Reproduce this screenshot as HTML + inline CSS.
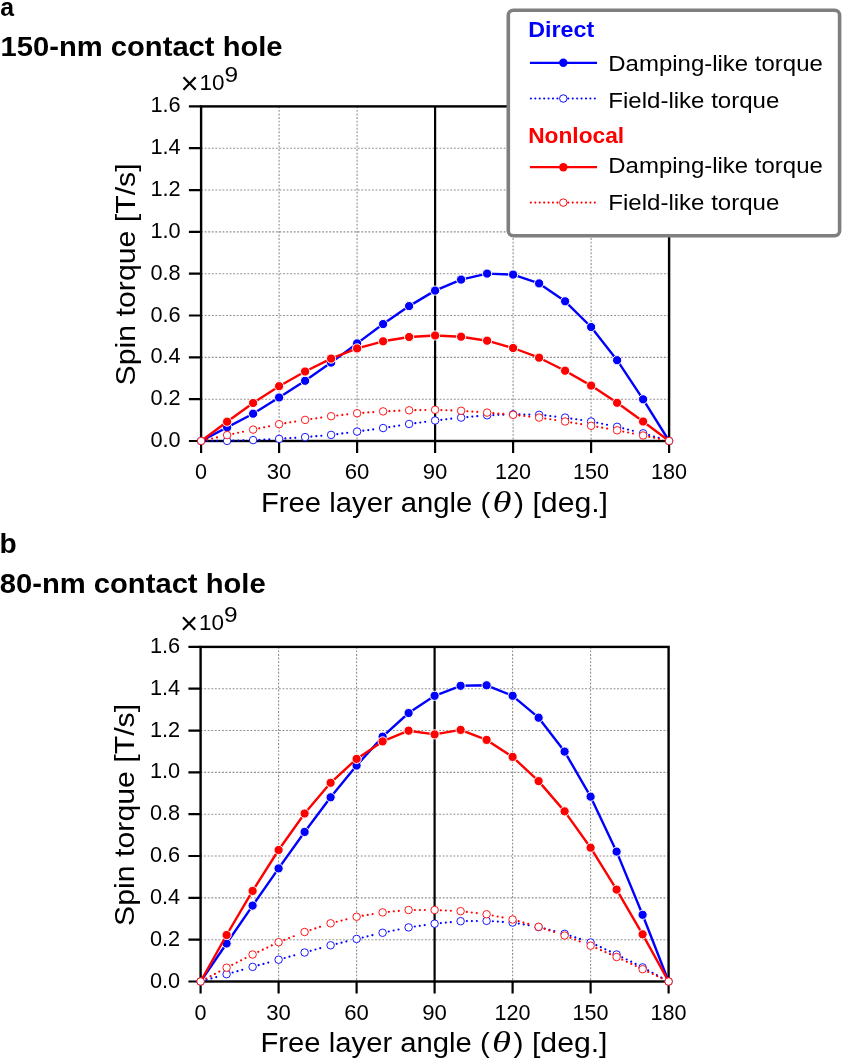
<!DOCTYPE html>
<html lang="en">
<head>
<meta charset="utf-8">
<title>Spin torque vs free layer angle</title>
<style>
html,body{margin:0;padding:0;background:#fff;}
body{width:842px;height:1059px;overflow:hidden;}
svg{display:block;}
svg text{font-family:'Liberation Sans', sans-serif;}
</style>
</head>
<body>
<svg width="842" height="1059" viewBox="0 0 842 1059">
<rect width="842" height="1059" fill="#fff"/>
<text x="0.3" y="16.4" font-size="25.5" font-weight="bold" textLength="13.8" lengthAdjust="spacingAndGlyphs">a</text>
<text x="0.6" y="55.6" font-size="27.5" font-weight="bold" textLength="282" lengthAdjust="spacingAndGlyphs">150-nm contact hole</text>
<text x="-0.6" y="553.3" font-size="27.5" font-weight="bold" textLength="17.2" lengthAdjust="spacingAndGlyphs">b</text>
<text x="-0.3" y="593.2" font-size="27.5" font-weight="bold" textLength="266" lengthAdjust="spacingAndGlyphs">80-nm contact hole</text>
<g transform="translate(0,0.2)">
<path d="M201.1 398.98H669.1M201.1 357.15H669.1M201.1 315.32H669.1M201.1 273.50H669.1M201.1 231.68H669.1M201.1 189.85H669.1M201.1 148.02H669.1M279.1 106.2V440.8M357.1 106.2V440.8M513.1 106.2V440.8M591.1 106.2V440.8" stroke="#909090" stroke-width="1.1" stroke-dasharray="1.9 1.66" fill="none"/>
<path d="M188.9 440.80H201.1M188.9 398.98H201.1M188.9 357.15H201.1M188.9 315.32H201.1M188.9 273.50H201.1M188.9 231.68H201.1M188.9 189.85H201.1M188.9 148.02H201.1M188.9 106.20H201.1M201.1 440.8V452.8M279.1 440.8V452.8M357.1 440.8V452.8M435.1 440.8V452.8M513.1 440.8V452.8M591.1 440.8V452.8M669.1 440.8V452.8" stroke="#000" stroke-width="2.2" fill="none"/>
<path d="M435.1 106.2V440.8" stroke="#000" stroke-width="2.2"/>
<rect x="201.1" y="106.2" width="468.0" height="334.6" fill="none" stroke="#000" stroke-width="2.4"/>
<polyline points="201.1,440.80 227.1,427.20 253.1,413.50 279.1,397.30 305.1,380.60 331.1,362.40 357.1,343.20 383.1,323.85 409.1,305.90 435.1,290.40 461.1,279.40 487.1,273.40 513.1,274.40 539.1,283.20 565.1,301.10 591.1,326.80 617.1,360.00 643.1,399.10 669.1,440.80" fill="none" stroke="#0000ff" stroke-width="2.4" stroke-linejoin="round"/>
<circle cx="227.1" cy="427.20" r="4.6" fill="#0000ff" stroke="#fff" stroke-width="1"/>
<circle cx="253.1" cy="413.50" r="4.6" fill="#0000ff" stroke="#fff" stroke-width="1"/>
<circle cx="279.1" cy="397.30" r="4.6" fill="#0000ff" stroke="#fff" stroke-width="1"/>
<circle cx="305.1" cy="380.60" r="4.6" fill="#0000ff" stroke="#fff" stroke-width="1"/>
<circle cx="331.1" cy="362.40" r="4.6" fill="#0000ff" stroke="#fff" stroke-width="1"/>
<circle cx="357.1" cy="343.20" r="4.6" fill="#0000ff" stroke="#fff" stroke-width="1"/>
<circle cx="383.1" cy="323.85" r="4.6" fill="#0000ff" stroke="#fff" stroke-width="1"/>
<circle cx="409.1" cy="305.90" r="4.6" fill="#0000ff" stroke="#fff" stroke-width="1"/>
<circle cx="435.1" cy="290.40" r="4.6" fill="#0000ff" stroke="#fff" stroke-width="1"/>
<circle cx="461.1" cy="279.40" r="4.6" fill="#0000ff" stroke="#fff" stroke-width="1"/>
<circle cx="487.1" cy="273.40" r="4.6" fill="#0000ff" stroke="#fff" stroke-width="1"/>
<circle cx="513.1" cy="274.40" r="4.6" fill="#0000ff" stroke="#fff" stroke-width="1"/>
<circle cx="539.1" cy="283.20" r="4.6" fill="#0000ff" stroke="#fff" stroke-width="1"/>
<circle cx="565.1" cy="301.10" r="4.6" fill="#0000ff" stroke="#fff" stroke-width="1"/>
<circle cx="591.1" cy="326.80" r="4.6" fill="#0000ff" stroke="#fff" stroke-width="1"/>
<circle cx="617.1" cy="360.00" r="4.6" fill="#0000ff" stroke="#fff" stroke-width="1"/>
<circle cx="643.1" cy="399.10" r="4.6" fill="#0000ff" stroke="#fff" stroke-width="1"/>
<path d="M207.40 440.78h0M212.37 440.76h0M217.34 440.74h0M233.40 440.51h0M238.36 440.35h0M243.33 440.20h0M259.39 439.61h0M264.36 439.38h0M269.32 439.15h0M285.38 438.26h0M290.34 437.92h0M295.30 437.58h0M311.38 436.37h0M316.33 435.95h0M321.28 435.53h0M337.35 433.89h0M342.28 433.26h0M347.21 432.62h0M363.34 430.51h0M368.27 429.85h0M373.19 429.18h0M389.32 426.88h0M394.24 426.12h0M399.15 425.35h0M415.34 422.96h0M420.27 422.30h0M425.19 421.63h0M441.36 419.60h0M446.30 419.05h0M451.24 418.50h0M467.38 416.84h0M472.33 416.41h0M477.28 415.97h0M493.40 414.86h0M498.36 414.67h0M503.33 414.48h0M519.40 414.22h0M524.37 414.32h0M529.34 414.41h0M545.36 415.27h0M550.31 415.81h0M555.25 416.34h0M571.33 418.33h0M576.25 419.07h0M581.16 419.81h0M597.27 422.56h0M602.14 423.55h0M607.01 424.54h0M623.21 428.13h0M628.03 429.33h0M632.86 430.54h0M649.14 434.89h0M653.91 436.30h0M658.67 437.71h0" fill="none" stroke="#0000ff" stroke-width="2.2" stroke-linecap="round"/>
<circle cx="201.1" cy="440.80" r="3.75" fill="#fff" stroke="#0000ff" stroke-width="0.9"/>
<circle cx="227.1" cy="440.70" r="3.75" fill="#fff" stroke="#0000ff" stroke-width="0.9"/>
<circle cx="253.1" cy="439.90" r="3.75" fill="#fff" stroke="#0000ff" stroke-width="0.9"/>
<circle cx="279.1" cy="438.70" r="3.75" fill="#fff" stroke="#0000ff" stroke-width="0.9"/>
<circle cx="305.1" cy="436.90" r="3.75" fill="#fff" stroke="#0000ff" stroke-width="0.9"/>
<circle cx="331.1" cy="434.70" r="3.75" fill="#fff" stroke="#0000ff" stroke-width="0.9"/>
<circle cx="357.1" cy="431.35" r="3.75" fill="#fff" stroke="#0000ff" stroke-width="0.9"/>
<circle cx="383.1" cy="427.85" r="3.75" fill="#fff" stroke="#0000ff" stroke-width="0.9"/>
<circle cx="409.1" cy="423.80" r="3.75" fill="#fff" stroke="#0000ff" stroke-width="0.9"/>
<circle cx="435.1" cy="420.30" r="3.75" fill="#fff" stroke="#0000ff" stroke-width="0.9"/>
<circle cx="461.1" cy="417.40" r="3.75" fill="#fff" stroke="#0000ff" stroke-width="0.9"/>
<circle cx="487.1" cy="415.10" r="3.75" fill="#fff" stroke="#0000ff" stroke-width="0.9"/>
<circle cx="513.1" cy="414.10" r="3.75" fill="#fff" stroke="#0000ff" stroke-width="0.9"/>
<circle cx="539.1" cy="414.60" r="3.75" fill="#fff" stroke="#0000ff" stroke-width="0.9"/>
<circle cx="565.1" cy="417.40" r="3.75" fill="#fff" stroke="#0000ff" stroke-width="0.9"/>
<circle cx="591.1" cy="421.30" r="3.75" fill="#fff" stroke="#0000ff" stroke-width="0.9"/>
<circle cx="617.1" cy="426.60" r="3.75" fill="#fff" stroke="#0000ff" stroke-width="0.9"/>
<circle cx="643.1" cy="433.10" r="3.75" fill="#fff" stroke="#0000ff" stroke-width="0.9"/>
<circle cx="669.1" cy="440.80" r="3.75" fill="#fff" stroke="#0000ff" stroke-width="0.9"/>
<polyline points="201.1,440.80 227.1,421.50 253.1,402.80 279.1,386.00 305.1,371.30 331.1,358.40 357.1,348.20 383.1,341.10 409.1,336.80 435.1,335.30 461.1,336.50 487.1,340.50 513.1,347.80 539.1,357.50 565.1,370.50 591.1,385.40 617.1,402.60 643.1,421.30 669.1,440.80" fill="none" stroke="#ff0000" stroke-width="2.4" stroke-linejoin="round"/>
<circle cx="227.1" cy="421.50" r="4.6" fill="#ff0000" stroke="#fff" stroke-width="1"/>
<circle cx="253.1" cy="402.80" r="4.6" fill="#ff0000" stroke="#fff" stroke-width="1"/>
<circle cx="279.1" cy="386.00" r="4.6" fill="#ff0000" stroke="#fff" stroke-width="1"/>
<circle cx="305.1" cy="371.30" r="4.6" fill="#ff0000" stroke="#fff" stroke-width="1"/>
<circle cx="331.1" cy="358.40" r="4.6" fill="#ff0000" stroke="#fff" stroke-width="1"/>
<circle cx="357.1" cy="348.20" r="4.6" fill="#ff0000" stroke="#fff" stroke-width="1"/>
<circle cx="383.1" cy="341.10" r="4.6" fill="#ff0000" stroke="#fff" stroke-width="1"/>
<circle cx="409.1" cy="336.80" r="4.6" fill="#ff0000" stroke="#fff" stroke-width="1"/>
<circle cx="435.1" cy="335.30" r="4.6" fill="#ff0000" stroke="#fff" stroke-width="1"/>
<circle cx="461.1" cy="336.50" r="4.6" fill="#ff0000" stroke="#fff" stroke-width="1"/>
<circle cx="487.1" cy="340.50" r="4.6" fill="#ff0000" stroke="#fff" stroke-width="1"/>
<circle cx="513.1" cy="347.80" r="4.6" fill="#ff0000" stroke="#fff" stroke-width="1"/>
<circle cx="539.1" cy="357.50" r="4.6" fill="#ff0000" stroke="#fff" stroke-width="1"/>
<circle cx="565.1" cy="370.50" r="4.6" fill="#ff0000" stroke="#fff" stroke-width="1"/>
<circle cx="591.1" cy="385.40" r="4.6" fill="#ff0000" stroke="#fff" stroke-width="1"/>
<circle cx="617.1" cy="402.60" r="4.6" fill="#ff0000" stroke="#fff" stroke-width="1"/>
<circle cx="643.1" cy="421.30" r="4.6" fill="#ff0000" stroke="#fff" stroke-width="1"/>
<path d="M207.24 439.41h0M212.09 438.31h0M216.94 437.21h0M233.26 433.60h0M238.13 432.57h0M242.99 431.54h0M259.27 428.12h0M264.13 427.11h0M269.00 426.10h0M285.32 422.97h0M290.22 422.16h0M295.12 421.35h0M311.34 418.81h0M316.26 418.11h0M321.18 417.41h0M337.36 415.29h0M342.30 414.73h0M347.24 414.17h0M363.38 412.60h0M368.34 412.25h0M373.30 411.90h0M389.39 410.93h0M394.36 410.72h0M399.33 410.51h0M415.40 409.98h0M420.37 409.88h0M425.34 409.79h0M441.40 409.84h0M446.36 410.03h0M451.33 410.22h0M467.38 411.04h0M472.34 411.38h0M477.30 411.72h0M493.38 412.93h0M498.33 413.35h0M503.28 413.77h0M519.36 415.27h0M524.31 415.81h0M529.25 416.34h0M545.33 418.33h0M550.25 419.07h0M555.16 419.81h0M571.32 422.33h0M576.22 423.14h0M581.12 423.95h0M597.31 426.67h0M602.20 427.52h0M607.10 428.37h0M623.28 431.34h0M628.15 432.31h0M633.02 433.28h0M649.26 436.60h0M654.13 437.63h0M658.99 438.66h0" fill="none" stroke="#ff0000" stroke-width="2.2" stroke-linecap="round"/>
<circle cx="201.1" cy="440.80" r="3.75" fill="#fff" stroke="#ff0000" stroke-width="0.9"/>
<circle cx="227.1" cy="434.90" r="3.75" fill="#fff" stroke="#ff0000" stroke-width="0.9"/>
<circle cx="253.1" cy="429.40" r="3.75" fill="#fff" stroke="#ff0000" stroke-width="0.9"/>
<circle cx="279.1" cy="424.00" r="3.75" fill="#fff" stroke="#ff0000" stroke-width="0.9"/>
<circle cx="305.1" cy="419.70" r="3.75" fill="#fff" stroke="#ff0000" stroke-width="0.9"/>
<circle cx="331.1" cy="416.00" r="3.75" fill="#fff" stroke="#ff0000" stroke-width="0.9"/>
<circle cx="357.1" cy="413.05" r="3.75" fill="#fff" stroke="#ff0000" stroke-width="0.9"/>
<circle cx="383.1" cy="411.20" r="3.75" fill="#fff" stroke="#ff0000" stroke-width="0.9"/>
<circle cx="409.1" cy="410.10" r="3.75" fill="#fff" stroke="#ff0000" stroke-width="0.9"/>
<circle cx="435.1" cy="409.60" r="3.75" fill="#fff" stroke="#ff0000" stroke-width="0.9"/>
<circle cx="461.1" cy="410.60" r="3.75" fill="#fff" stroke="#ff0000" stroke-width="0.9"/>
<circle cx="487.1" cy="412.40" r="3.75" fill="#fff" stroke="#ff0000" stroke-width="0.9"/>
<circle cx="513.1" cy="414.60" r="3.75" fill="#fff" stroke="#ff0000" stroke-width="0.9"/>
<circle cx="539.1" cy="417.40" r="3.75" fill="#fff" stroke="#ff0000" stroke-width="0.9"/>
<circle cx="565.1" cy="421.30" r="3.75" fill="#fff" stroke="#ff0000" stroke-width="0.9"/>
<circle cx="591.1" cy="425.60" r="3.75" fill="#fff" stroke="#ff0000" stroke-width="0.9"/>
<circle cx="617.1" cy="430.10" r="3.75" fill="#fff" stroke="#ff0000" stroke-width="0.9"/>
<circle cx="643.1" cy="435.30" r="3.75" fill="#fff" stroke="#ff0000" stroke-width="0.9"/>
<circle cx="669.1" cy="440.80" r="3.75" fill="#fff" stroke="#ff0000" stroke-width="0.9"/>
<text x="180.6" y="446.9" text-anchor="end" font-size="22.5" textLength="30.2" lengthAdjust="spacingAndGlyphs">0.0</text>
<text x="180.6" y="405.1" text-anchor="end" font-size="22.5" textLength="30.2" lengthAdjust="spacingAndGlyphs">0.2</text>
<text x="180.6" y="363.2" text-anchor="end" font-size="22.5" textLength="30.2" lengthAdjust="spacingAndGlyphs">0.4</text>
<text x="180.6" y="321.4" text-anchor="end" font-size="22.5" textLength="30.2" lengthAdjust="spacingAndGlyphs">0.6</text>
<text x="180.6" y="279.6" text-anchor="end" font-size="22.5" textLength="30.2" lengthAdjust="spacingAndGlyphs">0.8</text>
<text x="180.6" y="237.8" text-anchor="end" font-size="22.5" textLength="30.2" lengthAdjust="spacingAndGlyphs">1.0</text>
<text x="180.6" y="195.9" text-anchor="end" font-size="22.5" textLength="30.2" lengthAdjust="spacingAndGlyphs">1.2</text>
<text x="180.6" y="154.1" text-anchor="end" font-size="22.5" textLength="30.2" lengthAdjust="spacingAndGlyphs">1.4</text>
<text x="180.6" y="112.3" text-anchor="end" font-size="22.5" textLength="30.2" lengthAdjust="spacingAndGlyphs">1.6</text>
<text x="201.1" y="478.9" text-anchor="middle" font-size="22.5" textLength="12.0" lengthAdjust="spacingAndGlyphs">0</text>
<text x="279.1" y="478.9" text-anchor="middle" font-size="22.5" textLength="24.6" lengthAdjust="spacingAndGlyphs">30</text>
<text x="357.1" y="478.9" text-anchor="middle" font-size="22.5" textLength="24.6" lengthAdjust="spacingAndGlyphs">60</text>
<text x="435.1" y="478.9" text-anchor="middle" font-size="22.5" textLength="24.6" lengthAdjust="spacingAndGlyphs">90</text>
<text x="513.1" y="478.9" text-anchor="middle" font-size="22.5" textLength="36.0" lengthAdjust="spacingAndGlyphs">120</text>
<text x="591.1" y="478.9" text-anchor="middle" font-size="22.5" textLength="36.0" lengthAdjust="spacingAndGlyphs">150</text>
<text x="669.1" y="478.9" text-anchor="middle" font-size="22.5" textLength="36.0" lengthAdjust="spacingAndGlyphs">180</text>
<text x="180.6" y="93.6" font-size="31">×</text>
<text x="199.6" y="89.8" font-size="22.4" textLength="25" lengthAdjust="spacingAndGlyphs">10</text>
<text x="224.4" y="81.5" font-size="22.4" textLength="13.6" lengthAdjust="spacingAndGlyphs">9</text>
<text x="261" y="511.6" font-size="27" textLength="229.2" lengthAdjust="spacingAndGlyphs">Free layer angle (</text>
<text x="492.6" y="511.6" font-size="29" style="font-family:'Liberation Serif',serif;font-style:italic" textLength="19" lengthAdjust="spacingAndGlyphs">θ</text>
<text x="514" y="511.6" font-size="27" textLength="94" lengthAdjust="spacingAndGlyphs">) [deg.]</text>
<text transform="translate(134.9,385.2) rotate(-90)" font-size="28" textLength="222" lengthAdjust="spacingAndGlyphs">Spin torque [T/s]</text>
</g>
<g transform="translate(-0.5,540.7)">
<path d="M201.1 398.98H669.1M201.1 357.15H669.1M201.1 315.32H669.1M201.1 273.50H669.1M201.1 231.68H669.1M201.1 189.85H669.1M201.1 148.02H669.1M279.1 106.2V440.8M357.1 106.2V440.8M513.1 106.2V440.8M591.1 106.2V440.8" stroke="#909090" stroke-width="1.1" stroke-dasharray="1.9 1.66" fill="none"/>
<path d="M188.9 440.80H201.1M188.9 398.98H201.1M188.9 357.15H201.1M188.9 315.32H201.1M188.9 273.50H201.1M188.9 231.68H201.1M188.9 189.85H201.1M188.9 148.02H201.1M188.9 106.20H201.1M201.1 440.8V452.8M279.1 440.8V452.8M357.1 440.8V452.8M435.1 440.8V452.8M513.1 440.8V452.8M591.1 440.8V452.8M669.1 440.8V452.8" stroke="#000" stroke-width="2.2" fill="none"/>
<path d="M435.1 106.2V440.8" stroke="#000" stroke-width="2.2"/>
<rect x="201.1" y="106.2" width="468.0" height="334.6" fill="none" stroke="#000" stroke-width="2.4"/>
<polyline points="201.1,440.80 227.1,402.80 253.1,364.90 279.1,327.70 305.1,291.25 331.1,256.60 357.1,224.90 383.1,196.00 409.1,172.30 435.1,155.10 461.1,145.10 487.1,144.60 513.1,155.10 539.1,177.00 565.1,210.90 591.1,255.95 617.1,310.95 643.1,374.10 669.1,440.80" fill="none" stroke="#0000ff" stroke-width="2.4" stroke-linejoin="round"/>
<circle cx="227.1" cy="402.80" r="4.6" fill="#0000ff" stroke="#fff" stroke-width="1"/>
<circle cx="253.1" cy="364.90" r="4.6" fill="#0000ff" stroke="#fff" stroke-width="1"/>
<circle cx="279.1" cy="327.70" r="4.6" fill="#0000ff" stroke="#fff" stroke-width="1"/>
<circle cx="305.1" cy="291.25" r="4.6" fill="#0000ff" stroke="#fff" stroke-width="1"/>
<circle cx="331.1" cy="256.60" r="4.6" fill="#0000ff" stroke="#fff" stroke-width="1"/>
<circle cx="357.1" cy="224.90" r="4.6" fill="#0000ff" stroke="#fff" stroke-width="1"/>
<circle cx="383.1" cy="196.00" r="4.6" fill="#0000ff" stroke="#fff" stroke-width="1"/>
<circle cx="409.1" cy="172.30" r="4.6" fill="#0000ff" stroke="#fff" stroke-width="1"/>
<circle cx="435.1" cy="155.10" r="4.6" fill="#0000ff" stroke="#fff" stroke-width="1"/>
<circle cx="461.1" cy="145.10" r="4.6" fill="#0000ff" stroke="#fff" stroke-width="1"/>
<circle cx="487.1" cy="144.60" r="4.6" fill="#0000ff" stroke="#fff" stroke-width="1"/>
<circle cx="513.1" cy="155.10" r="4.6" fill="#0000ff" stroke="#fff" stroke-width="1"/>
<circle cx="539.1" cy="177.00" r="4.6" fill="#0000ff" stroke="#fff" stroke-width="1"/>
<circle cx="565.1" cy="210.90" r="4.6" fill="#0000ff" stroke="#fff" stroke-width="1"/>
<circle cx="591.1" cy="255.95" r="4.6" fill="#0000ff" stroke="#fff" stroke-width="1"/>
<circle cx="617.1" cy="310.95" r="4.6" fill="#0000ff" stroke="#fff" stroke-width="1"/>
<circle cx="643.1" cy="374.10" r="4.6" fill="#0000ff" stroke="#fff" stroke-width="1"/>
<path d="M207.17 439.10h0M211.95 437.75h0M216.74 436.41h0M233.17 431.80h0M237.95 430.45h0M242.74 429.11h0M259.17 424.52h0M263.96 423.19h0M268.75 421.87h0M285.17 417.32h0M289.96 415.99h0M294.75 414.67h0M311.17 410.12h0M315.96 408.79h0M320.75 407.47h0M337.22 403.11h0M342.05 401.93h0M346.88 400.75h0M363.23 396.79h0M368.06 395.64h0M372.90 394.48h0M389.27 390.78h0M394.14 389.78h0M399.01 388.78h0M415.34 385.81h0M420.26 385.11h0M425.18 384.41h0M441.37 382.40h0M446.32 381.92h0M451.27 381.45h0M467.40 380.42h0M472.37 380.35h0M477.34 380.28h0M493.39 380.55h0M498.35 380.86h0M503.31 381.18h0M519.31 382.87h0M524.20 383.72h0M529.10 384.57h0M545.19 387.89h0M550.00 389.15h0M554.81 390.41h0M571.07 395.10h0M575.79 396.68h0M580.50 398.25h0M596.82 404.44h0M601.33 406.52h0M605.85 408.61h0M610.36 410.69h0M622.74 416.60h0M627.20 418.81h0M631.65 421.02h0M636.10 423.23h0M648.64 429.70h0M653.01 432.07h0M657.38 434.44h0M661.74 436.81h0" fill="none" stroke="#0000ff" stroke-width="2.2" stroke-linecap="round"/>
<circle cx="201.1" cy="440.80" r="3.75" fill="#fff" stroke="#0000ff" stroke-width="0.9"/>
<circle cx="227.1" cy="433.50" r="3.75" fill="#fff" stroke="#0000ff" stroke-width="0.9"/>
<circle cx="253.1" cy="426.20" r="3.75" fill="#fff" stroke="#0000ff" stroke-width="0.9"/>
<circle cx="279.1" cy="419.00" r="3.75" fill="#fff" stroke="#0000ff" stroke-width="0.9"/>
<circle cx="305.1" cy="411.80" r="3.75" fill="#fff" stroke="#0000ff" stroke-width="0.9"/>
<circle cx="331.1" cy="404.60" r="3.75" fill="#fff" stroke="#0000ff" stroke-width="0.9"/>
<circle cx="357.1" cy="398.25" r="3.75" fill="#fff" stroke="#0000ff" stroke-width="0.9"/>
<circle cx="383.1" cy="392.05" r="3.75" fill="#fff" stroke="#0000ff" stroke-width="0.9"/>
<circle cx="409.1" cy="386.70" r="3.75" fill="#fff" stroke="#0000ff" stroke-width="0.9"/>
<circle cx="435.1" cy="383.00" r="3.75" fill="#fff" stroke="#0000ff" stroke-width="0.9"/>
<circle cx="461.1" cy="380.50" r="3.75" fill="#fff" stroke="#0000ff" stroke-width="0.9"/>
<circle cx="487.1" cy="380.15" r="3.75" fill="#fff" stroke="#0000ff" stroke-width="0.9"/>
<circle cx="513.1" cy="381.80" r="3.75" fill="#fff" stroke="#0000ff" stroke-width="0.9"/>
<circle cx="539.1" cy="386.30" r="3.75" fill="#fff" stroke="#0000ff" stroke-width="0.9"/>
<circle cx="565.1" cy="393.10" r="3.75" fill="#fff" stroke="#0000ff" stroke-width="0.9"/>
<circle cx="591.1" cy="401.80" r="3.75" fill="#fff" stroke="#0000ff" stroke-width="0.9"/>
<circle cx="617.1" cy="413.80" r="3.75" fill="#fff" stroke="#0000ff" stroke-width="0.9"/>
<circle cx="643.1" cy="426.70" r="3.75" fill="#fff" stroke="#0000ff" stroke-width="0.9"/>
<circle cx="669.1" cy="440.80" r="3.75" fill="#fff" stroke="#0000ff" stroke-width="0.9"/>
<polyline points="201.1,440.80 227.1,394.30 253.1,350.20 279.1,309.30 305.1,272.80 331.1,242.10 357.1,218.20 383.1,200.70 409.1,190.00 435.1,193.70 461.1,189.20 487.1,199.20 513.1,216.20 539.1,240.40 565.1,270.65 591.1,307.00 617.1,348.90 643.1,393.60 669.1,440.80" fill="none" stroke="#ff0000" stroke-width="2.4" stroke-linejoin="round"/>
<circle cx="227.1" cy="394.30" r="4.6" fill="#ff0000" stroke="#fff" stroke-width="1"/>
<circle cx="253.1" cy="350.20" r="4.6" fill="#ff0000" stroke="#fff" stroke-width="1"/>
<circle cx="279.1" cy="309.30" r="4.6" fill="#ff0000" stroke="#fff" stroke-width="1"/>
<circle cx="305.1" cy="272.80" r="4.6" fill="#ff0000" stroke="#fff" stroke-width="1"/>
<circle cx="331.1" cy="242.10" r="4.6" fill="#ff0000" stroke="#fff" stroke-width="1"/>
<circle cx="357.1" cy="218.20" r="4.6" fill="#ff0000" stroke="#fff" stroke-width="1"/>
<circle cx="383.1" cy="200.70" r="4.6" fill="#ff0000" stroke="#fff" stroke-width="1"/>
<circle cx="409.1" cy="190.00" r="4.6" fill="#ff0000" stroke="#fff" stroke-width="1"/>
<circle cx="435.1" cy="193.70" r="4.6" fill="#ff0000" stroke="#fff" stroke-width="1"/>
<circle cx="461.1" cy="189.20" r="4.6" fill="#ff0000" stroke="#fff" stroke-width="1"/>
<circle cx="487.1" cy="199.20" r="4.6" fill="#ff0000" stroke="#fff" stroke-width="1"/>
<circle cx="513.1" cy="216.20" r="4.6" fill="#ff0000" stroke="#fff" stroke-width="1"/>
<circle cx="539.1" cy="240.40" r="4.6" fill="#ff0000" stroke="#fff" stroke-width="1"/>
<circle cx="565.1" cy="270.65" r="4.6" fill="#ff0000" stroke="#fff" stroke-width="1"/>
<circle cx="591.1" cy="307.00" r="4.6" fill="#ff0000" stroke="#fff" stroke-width="1"/>
<circle cx="617.1" cy="348.90" r="4.6" fill="#ff0000" stroke="#fff" stroke-width="1"/>
<circle cx="643.1" cy="393.60" r="4.6" fill="#ff0000" stroke="#fff" stroke-width="1"/>
<path d="M206.66 437.85h0M211.05 435.52h0M215.44 433.19h0M219.83 430.86h0M232.72 424.15h0M237.15 421.90h0M241.58 419.65h0M246.01 417.40h0M258.79 411.11h0M263.29 408.98h0M267.78 406.86h0M272.27 404.73h0M284.96 399.20h0M289.59 397.38h0M294.22 395.57h0M311.07 389.30h0M315.79 387.72h0M320.50 386.15h0M337.21 381.06h0M342.03 379.85h0M346.85 378.63h0M363.31 375.01h0M368.22 374.19h0M373.12 373.37h0M389.37 371.12h0M394.32 370.66h0M399.27 370.21h0M415.40 369.30h0M420.37 369.30h0M425.34 369.30h0M441.39 369.59h0M446.36 369.82h0M451.32 370.05h0M467.36 371.23h0M472.29 371.81h0M477.23 372.39h0M493.28 374.80h0M498.15 375.78h0M503.02 376.76h0M519.16 380.51h0M523.94 381.87h0M528.73 383.22h0M545.08 388.14h0M549.79 389.71h0M554.51 391.28h0M570.96 397.10h0M575.59 398.92h0M580.22 400.73h0M596.88 407.51h0M601.44 409.49h0M605.99 411.47h0M610.55 413.45h0M622.80 418.98h0M627.30 421.09h0M631.80 423.20h0M636.30 425.31h0M648.79 431.19h0M653.29 433.32h0M657.78 435.44h0M662.27 437.57h0" fill="none" stroke="#ff0000" stroke-width="2.2" stroke-linecap="round"/>
<circle cx="201.1" cy="440.80" r="3.75" fill="#fff" stroke="#ff0000" stroke-width="0.9"/>
<circle cx="227.1" cy="427.00" r="3.75" fill="#fff" stroke="#ff0000" stroke-width="0.9"/>
<circle cx="253.1" cy="413.80" r="3.75" fill="#fff" stroke="#ff0000" stroke-width="0.9"/>
<circle cx="279.1" cy="401.50" r="3.75" fill="#fff" stroke="#ff0000" stroke-width="0.9"/>
<circle cx="305.1" cy="391.30" r="3.75" fill="#fff" stroke="#ff0000" stroke-width="0.9"/>
<circle cx="331.1" cy="382.60" r="3.75" fill="#fff" stroke="#ff0000" stroke-width="0.9"/>
<circle cx="357.1" cy="376.05" r="3.75" fill="#fff" stroke="#ff0000" stroke-width="0.9"/>
<circle cx="383.1" cy="371.70" r="3.75" fill="#fff" stroke="#ff0000" stroke-width="0.9"/>
<circle cx="409.1" cy="369.30" r="3.75" fill="#fff" stroke="#ff0000" stroke-width="0.9"/>
<circle cx="435.1" cy="369.30" r="3.75" fill="#fff" stroke="#ff0000" stroke-width="0.9"/>
<circle cx="461.1" cy="370.50" r="3.75" fill="#fff" stroke="#ff0000" stroke-width="0.9"/>
<circle cx="487.1" cy="373.55" r="3.75" fill="#fff" stroke="#ff0000" stroke-width="0.9"/>
<circle cx="513.1" cy="378.80" r="3.75" fill="#fff" stroke="#ff0000" stroke-width="0.9"/>
<circle cx="539.1" cy="386.15" r="3.75" fill="#fff" stroke="#ff0000" stroke-width="0.9"/>
<circle cx="565.1" cy="394.80" r="3.75" fill="#fff" stroke="#ff0000" stroke-width="0.9"/>
<circle cx="591.1" cy="405.00" r="3.75" fill="#fff" stroke="#ff0000" stroke-width="0.9"/>
<circle cx="617.1" cy="416.30" r="3.75" fill="#fff" stroke="#ff0000" stroke-width="0.9"/>
<circle cx="643.1" cy="428.50" r="3.75" fill="#fff" stroke="#ff0000" stroke-width="0.9"/>
<circle cx="669.1" cy="440.80" r="3.75" fill="#fff" stroke="#ff0000" stroke-width="0.9"/>
<text x="180.6" y="446.9" text-anchor="end" font-size="22.5" textLength="30.2" lengthAdjust="spacingAndGlyphs">0.0</text>
<text x="180.6" y="405.1" text-anchor="end" font-size="22.5" textLength="30.2" lengthAdjust="spacingAndGlyphs">0.2</text>
<text x="180.6" y="363.2" text-anchor="end" font-size="22.5" textLength="30.2" lengthAdjust="spacingAndGlyphs">0.4</text>
<text x="180.6" y="321.4" text-anchor="end" font-size="22.5" textLength="30.2" lengthAdjust="spacingAndGlyphs">0.6</text>
<text x="180.6" y="279.6" text-anchor="end" font-size="22.5" textLength="30.2" lengthAdjust="spacingAndGlyphs">0.8</text>
<text x="180.6" y="237.8" text-anchor="end" font-size="22.5" textLength="30.2" lengthAdjust="spacingAndGlyphs">1.0</text>
<text x="180.6" y="195.9" text-anchor="end" font-size="22.5" textLength="30.2" lengthAdjust="spacingAndGlyphs">1.2</text>
<text x="180.6" y="154.1" text-anchor="end" font-size="22.5" textLength="30.2" lengthAdjust="spacingAndGlyphs">1.4</text>
<text x="180.6" y="112.3" text-anchor="end" font-size="22.5" textLength="30.2" lengthAdjust="spacingAndGlyphs">1.6</text>
<text x="201.1" y="478.9" text-anchor="middle" font-size="22.5" textLength="12.0" lengthAdjust="spacingAndGlyphs">0</text>
<text x="279.1" y="478.9" text-anchor="middle" font-size="22.5" textLength="24.6" lengthAdjust="spacingAndGlyphs">30</text>
<text x="357.1" y="478.9" text-anchor="middle" font-size="22.5" textLength="24.6" lengthAdjust="spacingAndGlyphs">60</text>
<text x="435.1" y="478.9" text-anchor="middle" font-size="22.5" textLength="24.6" lengthAdjust="spacingAndGlyphs">90</text>
<text x="513.1" y="478.9" text-anchor="middle" font-size="22.5" textLength="36.0" lengthAdjust="spacingAndGlyphs">120</text>
<text x="591.1" y="478.9" text-anchor="middle" font-size="22.5" textLength="36.0" lengthAdjust="spacingAndGlyphs">150</text>
<text x="669.1" y="478.9" text-anchor="middle" font-size="22.5" textLength="36.0" lengthAdjust="spacingAndGlyphs">180</text>
<text x="180.6" y="93.6" font-size="31">×</text>
<text x="199.6" y="89.8" font-size="22.4" textLength="25" lengthAdjust="spacingAndGlyphs">10</text>
<text x="224.4" y="81.5" font-size="22.4" textLength="13.6" lengthAdjust="spacingAndGlyphs">9</text>
<text x="261" y="511.6" font-size="27" textLength="229.2" lengthAdjust="spacingAndGlyphs">Free layer angle (</text>
<text x="492.6" y="511.6" font-size="29" style="font-family:'Liberation Serif',serif;font-style:italic" textLength="19" lengthAdjust="spacingAndGlyphs">θ</text>
<text x="514" y="511.6" font-size="27" textLength="94" lengthAdjust="spacingAndGlyphs">) [deg.]</text>
<text transform="translate(134.9,385.2) rotate(-90)" font-size="28" textLength="222" lengthAdjust="spacingAndGlyphs">Spin torque [T/s]</text>
</g>
<rect x="508.3" y="10.2" width="331.3" height="225.5" rx="5" ry="5" fill="#fff" stroke="#7f7f7f" stroke-width="3.6"/>
<text x="528.2" y="36.8" font-size="21.5" font-weight="bold" fill="#0000ff" textLength="66" lengthAdjust="spacingAndGlyphs">Direct</text>
<text x="528.2" y="142.8" font-size="21.5" font-weight="bold" fill="#ff0000" textLength="96" lengthAdjust="spacingAndGlyphs">Nonlocal</text>
<path d="M529.9 62.8H597" stroke="#0000ff" stroke-width="2.3" fill="none"/>
<circle cx="563.3" cy="62.8" r="4.2" fill="#0000ff"/>
<text x="608.3" y="71.4" font-size="21.5" textLength="214.5" lengthAdjust="spacingAndGlyphs">Damping-like torque</text>
<path d="M530.90 98.5h0M568.30 98.5h0M535.32 98.5h0M572.72 98.5h0M539.74 98.5h0M577.14 98.5h0M544.16 98.5h0M581.56 98.5h0M548.58 98.5h0M585.98 98.5h0M553.00 98.5h0M590.40 98.5h0M557.42 98.5h0M594.82 98.5h0" stroke="#0000ff" stroke-width="2.1" stroke-linecap="round" fill="none"/>
<circle cx="563.3" cy="98.5" r="3.75" fill="#fff" stroke="#0000ff" stroke-width="0.95"/>
<text x="608.3" y="108.0" font-size="21.5" textLength="171" lengthAdjust="spacingAndGlyphs">Field-like torque</text>
<path d="M529.9 167.2H597" stroke="#ff0000" stroke-width="2.3" fill="none"/>
<circle cx="563.3" cy="167.2" r="4.2" fill="#ff0000"/>
<text x="608.3" y="173.1" font-size="21.5" textLength="214.5" lengthAdjust="spacingAndGlyphs">Damping-like torque</text>
<path d="M530.90 202.6h0M568.30 202.6h0M535.32 202.6h0M572.72 202.6h0M539.74 202.6h0M577.14 202.6h0M544.16 202.6h0M581.56 202.6h0M548.58 202.6h0M585.98 202.6h0M553.00 202.6h0M590.40 202.6h0M557.42 202.6h0M594.82 202.6h0" stroke="#ff0000" stroke-width="2.1" stroke-linecap="round" fill="none"/>
<circle cx="563.3" cy="202.6" r="3.75" fill="#fff" stroke="#ff0000" stroke-width="0.95"/>
<text x="608.3" y="210.0" font-size="21.5" textLength="171" lengthAdjust="spacingAndGlyphs">Field-like torque</text>
</svg>
</body>
</html>
